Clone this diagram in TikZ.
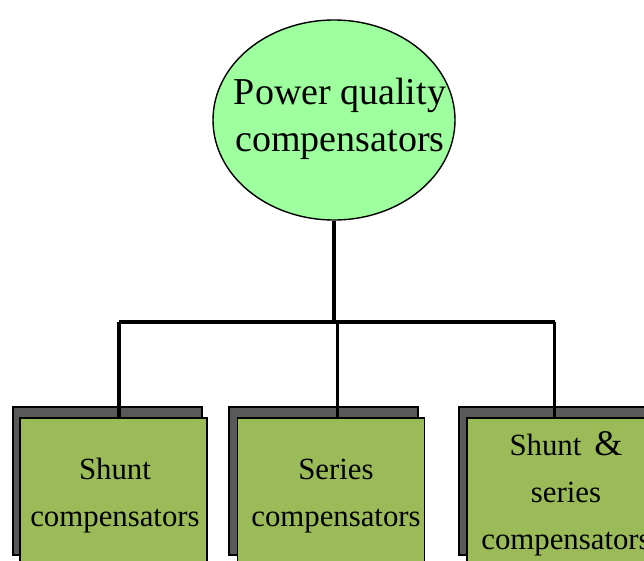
\documentclass[tikz,border=0pt]{standalone}
\usepackage{fontspec}
\setmainfont{Liberation Serif}
\usetikzlibrary{shapes.geometric}
\definecolor{ovalgreen}{HTML}{9EFF9E}
\definecolor{boxgreen}{HTML}{9BBB59}
\definecolor{shadowgray}{HTML}{595959}
\begin{document}
\begin{tikzpicture}[x=1pt,y=-1pt,
  wire/.style={line width=3.2pt},
  oval/.style={ellipse, draw, line width=1.4pt, fill=ovalgreen,
    minimum width=242pt, minimum height=200pt, inner sep=0pt},
  backbox/.style={draw, line width=1.6pt, fill=shadowgray,
    minimum width=189pt, minimum height=148pt, inner sep=0pt},
  frontbox/.style={draw, line width=1.6pt, fill=boxgreen,
    minimum width=187pt, minimum height=160pt, inner sep=0pt},
  ovaltext/.style={align=center, font=\fontsize{38}{47}\selectfont, inner sep=0pt},
  boxtext/.style={align=center, font=\fontsize{30.8}{47}\selectfont, inner sep=0pt}]
\useasboundingbox (0,0) rectangle (644,560);
\clip (0,0) rectangle (644,560);

% shadow boxes behind the three categories
\node[backbox] (s1) at (107.5,481) {};
\node[backbox] (s2) at (323.5,481) {};
\node[backbox] (s3) at (553.5,481) {};

% root ellipse
\node[oval] (root) at (334,120) {};

% tree connectors
\coordinate (hub)  at (334,322);
\coordinate (barL) at (119,322);
\coordinate (barM) at (337.7,322);
\coordinate (barR) at (554.5,322);
\draw[wire] (root.south) -- (hub);
\draw[wire] (barL) -- (barR);

% category boxes
\node[frontbox] (g1) at (113.5,498) {};
\node[frontbox] (g2) at (331,498) {};
\node[frontbox] (g3) at (560.5,498) {};

\draw[wire] (barL) -- (barL |- g1.north);
\draw[wire] (barM) -- (barM |- g2.north);
\draw[wire] (barR) -- (barR |- g3.north);

% labels
\node[ovaltext] (rootlabel) at (340,119) {Power quality\\compensators};
\node[boxtext] (l1) at (115,496) {Shunt\\compensators};
\node[boxtext] (l2) at (336,496) {Series\\compensators};
\node[boxtext] (l3) at (566,494) {Shunt\hspace{13pt}{\fontsize{36}{47}\selectfont\&}\\series\\compensators};
\end{tikzpicture}
\end{document}
